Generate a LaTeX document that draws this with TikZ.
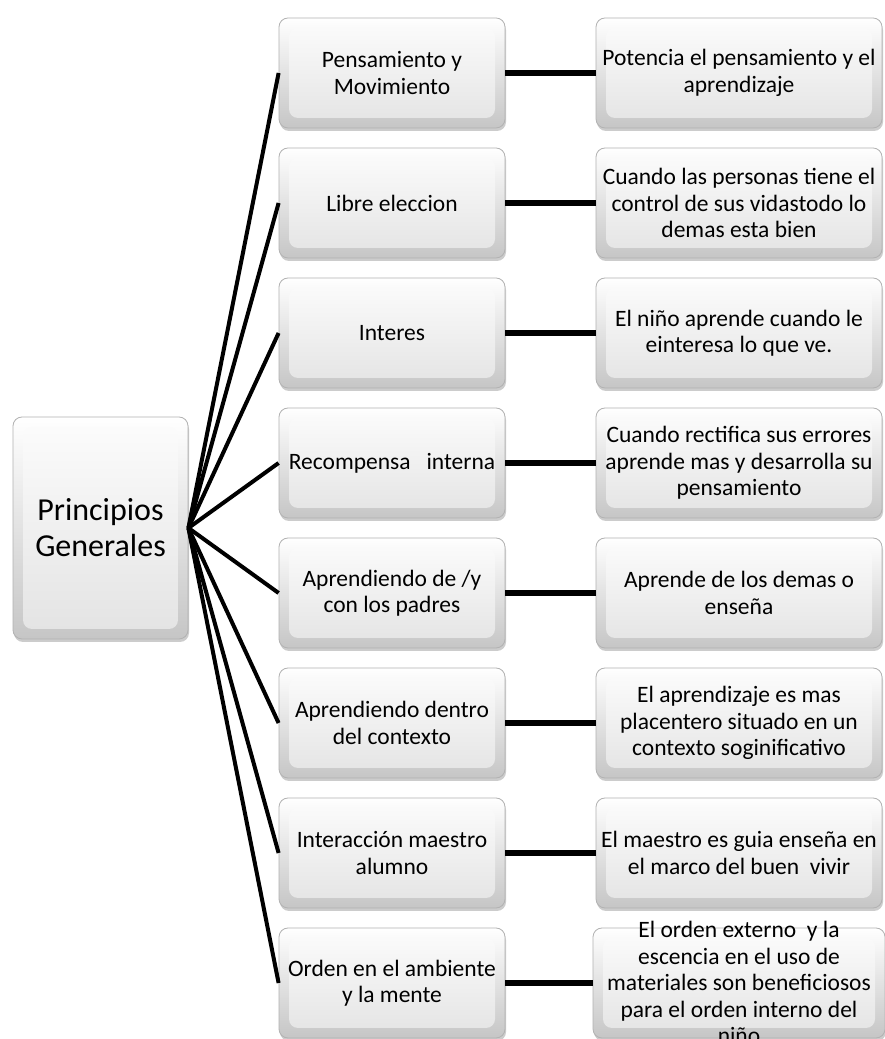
\documentclass[tikz,border=0pt]{standalone}
\usepackage{fontspec}
\setmainfont{Carlito}
\usetikzlibrary{shadows}

\begin{document}
\begin{tikzpicture}[x=1pt,y=1pt,
  caja/.style={rectangle, rounded corners=9pt, draw=gray!60, line width=0.8pt,
    top color=white, bottom color=gray!45, align=center, inner sep=0pt,
    font=\fontsize{23.5}{26.5}\selectfont,
    drop shadow={opacity=0.4, shadow xshift=1pt, shadow yshift=-3pt},
    path picture={\path[top color=gray!2, bottom color=gray!22]
      ([shift={(10pt,-10pt)}]path picture bounding box.north west) rectangle
      ([shift={(-10pt,10pt)}]path picture bounding box.south east);}},
  raizbox/.style={caja, minimum width=175pt, minimum height=222pt,
    font=\fontsize{32}{36}\selectfont},
  medio/.style={caja, minimum width=226pt, minimum height=110pt},
  derecha/.style={caja, minimum width=286pt, minimum height=110pt},
  rama/.style={line width=4pt},
  puente/.style={line width=6pt}]
\path[use as bounding box, fill=white] (0,0) rectangle (884,1039);
\node[raizbox] (raiz) at (100.5,511) {Principios\\Generales};
\node[medio] (m1) at (392,966) {Pensamiento y\\Movimiento};
\node[medio] (m2) at (392,836) {Libre eleccion};
\node[medio] (m3) at (392,706) {Interes};
\node[medio] (m4) at (392,576) {Recompensa\ \ \ interna};
\node[medio] (m5) at (392,446) {Aprendiendo de /y\\con los padres};
\node[medio] (m6) at (392,316) {Aprendiendo dentro\\del contexto};
\node[medio] (m7) at (392,186) {Interacción maestro\\alumno};
\node[medio] (m8) at (392,56) {Orden en el ambiente\\y la mente};
\node[derecha] (d1) at (739,966) {Potencia el pensamiento y el\\aprendizaje};
\node[derecha] (d2) at (739,836) {Cuando las personas tiene el\\control de sus vidastodo lo\\demas esta bien};
\node[derecha] (d3) at (739,706) {El niño aprende cuando le\\einteresa lo que ve.};
\node[derecha] (d4) at (739,576) {Cuando rectifica sus errores\\aprende mas y desarrolla su\\pensamiento};
\node[derecha] (d5) at (739,446) {Aprende de los demas o\\enseña};
\node[derecha] (d6) at (739,316) {El aprendizaje es mas\\placentero situado en un\\contexto soginificativo};
\node[derecha] (d7) at (739,186) {El maestro es guia enseña en\\el marco del buen\ \ vivir};
\node[derecha] (d8) at (739,56) {\smash{\raisebox{-6pt}{\parbox[c]{292pt}{\centering
  El orden externo\ \ y la\\escencia en el uso de\\materiales son beneficiosos\\para el orden interno del\\niño}}}};
\draw[rama] (raiz.east) -- (m1.west);
\draw[rama] (raiz.east) -- (m2.west);
\draw[rama] (raiz.east) -- (m3.west);
\draw[rama] (raiz.east) -- (m4.west);
\draw[rama] (raiz.east) -- (m5.west);
\draw[rama] (raiz.east) -- (m6.west);
\draw[rama] (raiz.east) -- (m7.west);
\draw[rama] (raiz.east) -- (m8.west);
\draw[puente] (m1.east) -- (d1.west);
\draw[puente] (m2.east) -- (d2.west);
\draw[puente] (m3.east) -- (d3.west);
\draw[puente] (m4.east) -- (d4.west);
\draw[puente] (m5.east) -- (d5.west);
\draw[puente] (m6.east) -- (d6.west);
\draw[puente] (m7.east) -- (d7.west);
\draw[puente] (m8.east) -- (d8.west);
\end{tikzpicture}
\end{document}
